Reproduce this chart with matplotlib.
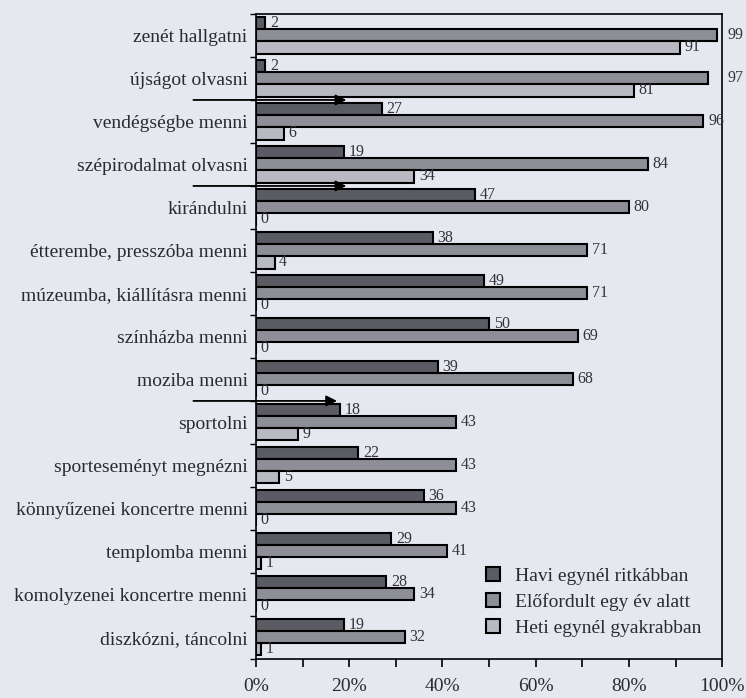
import numpy as np
import matplotlib
matplotlib.use("Agg")
import matplotlib.pyplot as plt
from matplotlib.ticker import MultipleLocator, FuncFormatter

plt.rcParams["font.family"] = ["Liberation Serif", "DejaVu Serif"]

categories = [
    "zenét hallgatni",
    "újságot olvasni",
    "vendégségbe menni",
    "szépirodalmat olvasni",
    "kirándulni",
    "étterembe, presszóba menni",
    "múzeumba, kiállításra menni",
    "színházba menni",
    "moziba menni",
    "sportolni",
    "sporteseményt megnézni",
    "könnyűzenei koncertre menni",
    "templomba menni",
    "komolyzenei koncertre menni",
    "diszkózni, táncolni",
]
havi = [2, 2, 27, 19, 47, 38, 49, 50, 39, 18, 22, 36, 29, 28, 19]
evente = [99, 97, 96, 84, 80, 71, 71, 69, 68, 43, 43, 43, 41, 34, 32]
heti = [91, 81, 6, 34, 0, 4, 0, 0, 0, 9, 5, 0, 1, 0, 1]

series_names = ["Havi egynél ritkábban", "Előfordult egy év alatt", "Heti egynél gyakrabban"]
series_colors = ["#5b5b63", "#8e8e96", "#b8b9c1"]

# arrows between groups: (row boundary, tip in %)
arrows = [(1.5, 20), (3.5, 20), (8.5, 18)]

bg = "#e6e8f0"
fig = plt.figure(figsize=(7.46, 6.98), dpi=100, facecolor=bg)
ax = fig.add_axes([0.343, 0.056, 0.625, 0.924], facecolor=bg)

y = np.arange(len(categories))
h = 0.28
offsets = [-h, 0, h]
for vals, off, color, name in zip([havi, evente, heti], offsets, series_colors, series_names):
    ax.barh(y + off, vals, height=h, color=color, edgecolor="black", linewidth=1.5, label=name)
    for yi, v in zip(y, vals):
        lx = 101.2 if v >= 97 else v + 1
        ax.text(lx, yi + off, str(v), fontsize=11.5, ha="left", va="center",
                color="#333338", clip_on=False)

for yb, tip in arrows:
    ax.annotate("", xy=(tip, yb), xytext=(-14, yb), annotation_clip=False,
                arrowprops=dict(arrowstyle="-|>", color="black", lw=1.3, mutation_scale=16))

ax.set_xlim(0, 100)
ax.set_ylim(len(categories) - 0.5, -0.5)
ax.set_yticks(y)
ax.set_yticklabels(categories, fontsize=14, color="#2a2a30")
ax.set_yticks(np.arange(len(categories) + 1) - 0.5, minor=True)
ax.tick_params(axis="y", which="major", length=0, pad=6)
ax.tick_params(axis="y", which="minor", length=4, direction="out", width=1)

ax.xaxis.set_major_locator(MultipleLocator(20))
ax.xaxis.set_minor_locator(MultipleLocator(10))
ax.xaxis.set_major_formatter(FuncFormatter(lambda v, p: f"{v:.0f}%"))
ax.tick_params(axis="x", which="both", direction="out", length=6, width=1.2,
               labelsize=14, pad=8, labelcolor="#2a2a30")

for s in ax.spines.values():
    s.set_linewidth(1.2)

leg = ax.legend(loc="upper left", bbox_to_anchor=(0.455, 0.17), frameon=False, fontsize=14,
                handlelength=0.75, handleheight=0.75, handletextpad=0.75, labelspacing=0.42)
for t in leg.get_texts():
    t.set_color("#2a2a30")

fig.savefig("out.png", dpi=100, facecolor=bg)
